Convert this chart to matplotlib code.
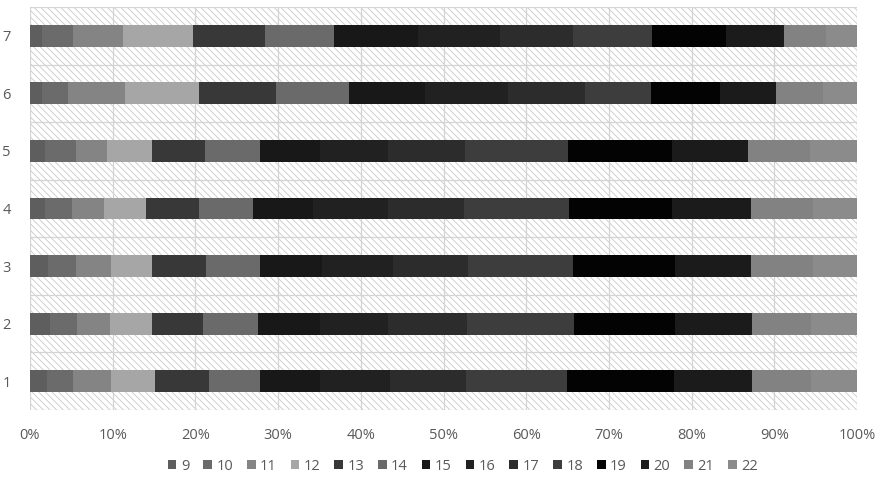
import matplotlib.pyplot as plt
from matplotlib.patches import Rectangle
import numpy as np

categories = ['1', '2', '3', '4', '5', '6', '7']
series = ['9', '10', '11', '12', '13', '14', '15', '16', '17', '18', '19', '20', '21', '22']

# share (%) of each series per category, rows = categories 1..7
v1 = [2.1, 3.1, 4.55, 5.4, 6.45, 6.25, 7.25, 8.45, 9.2, 12.2, 12.85, 9.4, 7.25, 5.5]
v2 = [2.4, 3.3, 3.95, 5.15, 6.1, 6.65, 7.45, 8.25, 9.55, 13.0, 12.2, 9.2, 7.25, 5.5]
v3 = [2.2, 3.4, 4.2, 4.9, 6.55, 6.6, 7.4, 8.65, 9.05, 12.7, 12.3, 9.15, 7.55, 5.3]
v4 = [1.8, 3.25, 3.9, 5.05, 6.45, 6.55, 7.25, 9.05, 9.15, 12.75, 12.45, 9.5, 7.55, 5.3]
v5 = [1.8, 3.75, 3.8, 5.35, 6.45, 6.65, 7.25, 8.25, 9.3, 12.5, 12.6, 9.2, 7.45, 5.7]
v6 = [1.4, 3.2, 6.9, 8.95, 9.3, 8.8, 9.2, 10.1, 9.35, 7.9, 8.35, 6.8, 5.7, 4.1]
v7 = [1.4, 3.8, 6.1, 8.4, 8.75, 8.3, 10.15, 9.9, 8.9, 9.5, 9.05, 7.0, 5.1, 3.7]

colors = ['#5e5e5e', '#6b6b6b', '#848484', '#a6a6a6', '#383838', '#6a6a6a', '#181818',
          '#212121', '#2c2c2c', '#3d3d3d', '#030303', '#1b1b1b', '#828282', '#8b8b8b']

data = np.array([v1, v2, v3, v4, v5, v6, v7])
data = data / data.sum(axis=1, keepdims=True)

plt.rcParams['font.family'] = ['Open Sans', 'DejaVu Sans']
plt.rcParams['hatch.linewidth'] = 0.6
txt = '#595959'

fig = plt.figure(figsize=(8.9, 4.83), dpi=100)
ax = fig.add_axes([30 / 890, 1 - 410 / 483, 827 / 890, 403 / 483])

# hatched plot area background
bg = Rectangle((0, 0), 1, 1, transform=ax.transAxes, facecolor='white',
               edgecolor='#c8c8c8', hatch='\\\\\\\\\\', linewidth=0, zorder=0)
ax.add_patch(bg)

y = np.arange(1, len(categories) + 1)
left = np.zeros(len(categories))
for i, s in enumerate(series):
    ax.barh(y, data[:, i], left=left, height=0.38, color=colors[i], label=s, zorder=3)
    left += data[:, i]

ax.set_xlim(0, 1)
ax.set_ylim(0.5, 7.5)
ax.set_xticks(np.linspace(0, 1, 11))
ax.set_xticklabels([f'{int(p)}%' for p in np.linspace(0, 100, 11)])
ax.set_yticks(y)
ax.set_yticklabels(categories)
ax.set_yticks(np.arange(0.5, 7.6, 1), minor=True)
ax.grid(axis='x', color='#d4d4d4', linewidth=0.9, zorder=1)
ax.grid(axis='y', which='minor', color='#d4d4d4', linewidth=0.9, zorder=1)
ax.tick_params(axis='both', which='both', length=0, colors=txt, labelsize=10.5)
ax.tick_params(axis='x', pad=13)
ax.tick_params(axis='y', pad=14)
for sp in ax.spines.values():
    sp.set_visible(False)

fig.legend(loc='center', bbox_to_anchor=(0.52, 1 - 466 / 483), ncol=14, frameon=False,
           handlelength=0.6, handleheight=0.6, handletextpad=0.3, columnspacing=0.95,
           fontsize=10.5, labelcolor=txt)

fig.savefig('out.png', dpi=100)
